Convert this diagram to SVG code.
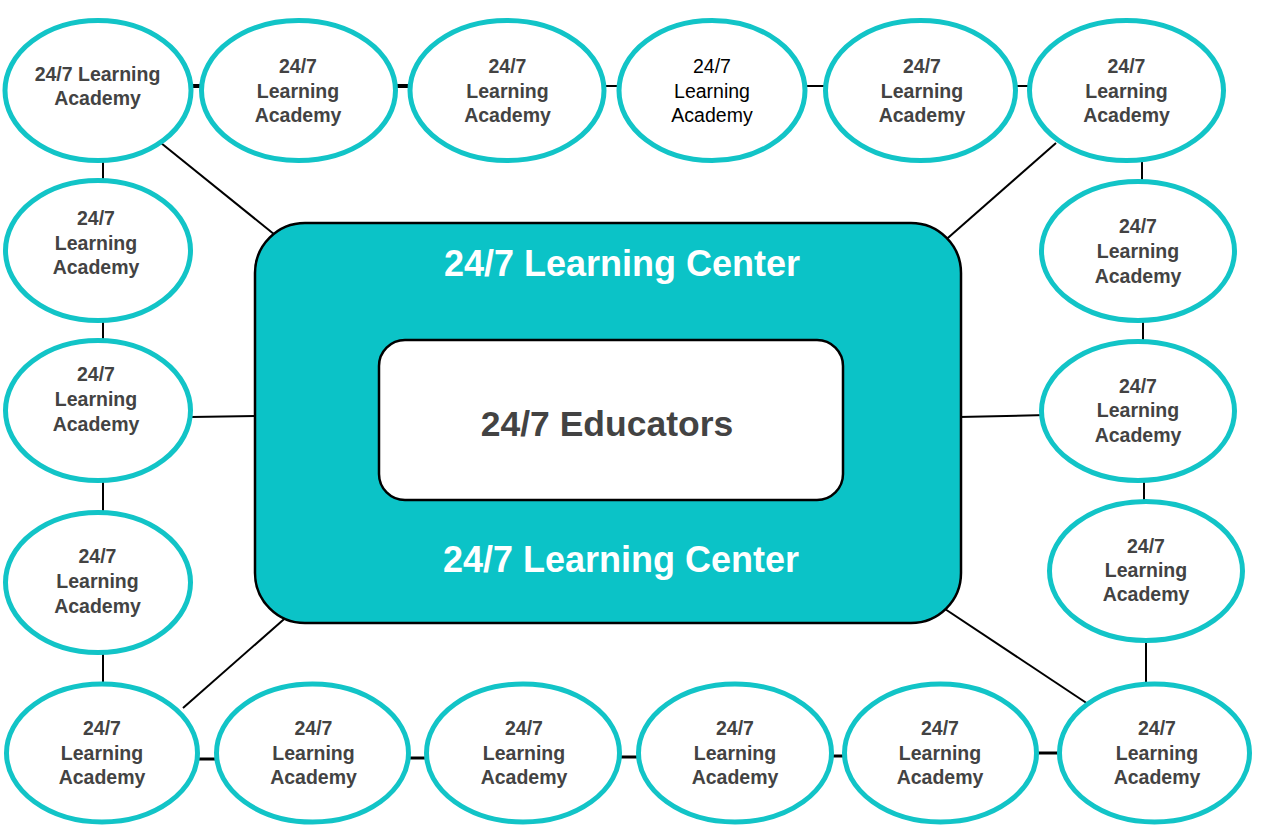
<svg xmlns="http://www.w3.org/2000/svg" width="1264" height="834" viewBox="0 0 1264 834">
<style>
.e{fill:#fff;stroke:#12c4c7;stroke-width:5}
.t{font-family:"Liberation Sans",Arial,sans-serif;font-size:19.5px;font-weight:bold;fill:#434343;text-anchor:middle}
.tr{font-weight:normal;fill:#000}
.c{stroke:#000;stroke-width:2;fill:none}
.ct{stroke:#000;stroke-width:4;fill:none}
.big{font-family:"Liberation Sans",Arial,sans-serif;font-size:36px;font-weight:bold;text-anchor:middle}
</style>
<rect width="1264" height="834" fill="#fff"/>
<g id="connectors">
<line class="ct" x1="190" y1="86" x2="202" y2="86"/>
<line class="ct" x1="395" y1="86" x2="411" y2="86"/>
<line class="c" x1="603" y1="86" x2="620" y2="86"/>
<line class="c" x1="804" y1="86" x2="826" y2="86"/>
<line class="c" x1="1015" y1="86" x2="1030" y2="86"/>
<line class="c" x1="103" y1="160" x2="103" y2="181"/>
<line class="c" x1="103" y1="320" x2="103" y2="341"/>
<line class="c" x1="103" y1="480" x2="103" y2="513"/>
<line class="c" x1="103" y1="652" x2="103" y2="685"/>
<line class="ct" x1="197" y1="759" x2="217" y2="759" style="stroke-width:3"/>
<line class="ct" x1="408" y1="758" x2="427" y2="758" style="stroke-width:3"/>
<line class="ct" x1="619" y1="757" x2="639" y2="757" style="stroke-width:3"/>
<line class="ct" x1="831" y1="756" x2="845" y2="756" style="stroke-width:3"/>
<line class="ct" x1="1036" y1="753" x2="1060" y2="753" style="stroke-width:3"/>
<line class="c" x1="1142" y1="160" x2="1142" y2="182"/>
<line class="c" x1="1143" y1="320" x2="1143" y2="342"/>
<line class="c" x1="1144" y1="480" x2="1144" y2="502"/>
<line class="c" x1="1146" y1="640" x2="1146" y2="685"/>
<line class="c" x1="161" y1="143" x2="280" y2="239"/>
<line class="c" x1="1056" y1="143" x2="941" y2="244"/>
<line class="c" x1="291" y1="613" x2="183" y2="708"/>
<line class="c" x1="942" y1="607" x2="1088" y2="704"/>
<line class="c" x1="191" y1="417" x2="257" y2="416"/>
<line class="c" x1="959" y1="417" x2="1047" y2="415"/>
</g>
<g id="center">
<rect x="255" y="223" width="706" height="400" rx="50" fill="#0bc3c7" stroke="#000" stroke-width="2.5"/>
<text class="big" x="622" y="276" fill="#fff">24/7 Learning Center</text>
<text class="big" x="621" y="572" fill="#fff">24/7 Learning Center</text>
</g>
<g id="educators">
<rect x="379" y="340" width="464" height="160" rx="26" fill="#fff" stroke="#000" stroke-width="2.5"/>
<text class="big" x="607" y="436" fill="#434343" style="font-size:35.5px">24/7 Educators</text>
</g>
<g id="t1"><ellipse class="e" cx="98" cy="90.5" rx="93" ry="70"/><text class="t" x="97.5" y="81">24/7 Learning</text><text class="t" x="97.5" y="105">Academy</text></g>
<g id="t2"><ellipse class="e" cx="298.5" cy="90.5" rx="97" ry="70"/><text class="t" x="298" y="73">24/7</text><text class="t" x="298" y="98">Learning</text><text class="t" x="298" y="122">Academy</text></g>
<g id="t3"><ellipse class="e" cx="507" cy="90.5" rx="97" ry="70"/><text class="t" x="507.5" y="73">24/7</text><text class="t" x="507.5" y="98">Learning</text><text class="t" x="507.5" y="122">Academy</text></g>
<g id="t4"><ellipse class="e" cx="712" cy="90.5" rx="93" ry="70"/><text class="t tr" x="712" y="73">24/7</text><text class="t tr" x="712" y="98">Learning</text><text class="t tr" x="712" y="122">Academy</text></g>
<g id="t5"><ellipse class="e" cx="920.5" cy="90.5" rx="95" ry="70"/><text class="t" x="922" y="73">24/7</text><text class="t" x="922" y="98">Learning</text><text class="t" x="922" y="122">Academy</text></g>
<g id="t6"><ellipse class="e" cx="1126.5" cy="90.5" rx="97" ry="70"/><text class="t" x="1126.5" y="73">24/7</text><text class="t" x="1126.5" y="98">Learning</text><text class="t" x="1126.5" y="122">Academy</text></g>
<g id="l1"><ellipse class="e" cx="98" cy="250.5" rx="92.5" ry="70"/><text class="t" x="96" y="225">24/7</text><text class="t" x="96" y="250">Learning</text><text class="t" x="96" y="274">Academy</text></g>
<g id="l2"><ellipse class="e" cx="98" cy="410.5" rx="92.5" ry="70"/><text class="t" x="96" y="381">24/7</text><text class="t" x="96" y="406">Learning</text><text class="t" x="96" y="431">Academy</text></g>
<g id="l3"><ellipse class="e" cx="98" cy="582.5" rx="92.5" ry="70"/><text class="t" x="97.5" y="563">24/7</text><text class="t" x="97.5" y="588">Learning</text><text class="t" x="97.5" y="613">Academy</text></g>
<g id="r1"><ellipse class="e" cx="1138" cy="251" rx="96.5" ry="69.5"/><text class="t" x="1138" y="233">24/7</text><text class="t" x="1138" y="258">Learning</text><text class="t" x="1138" y="283">Academy</text></g>
<g id="r2"><ellipse class="e" cx="1138" cy="411" rx="96.5" ry="69.5"/><text class="t" x="1138" y="393">24/7</text><text class="t" x="1138" y="417">Learning</text><text class="t" x="1138" y="442">Academy</text></g>
<g id="r3"><ellipse class="e" cx="1146" cy="571" rx="96.5" ry="69.5"/><text class="t" x="1146" y="553">24/7</text><text class="t" x="1146" y="577">Learning</text><text class="t" x="1146" y="601">Academy</text></g>
<g id="b1"><ellipse class="e" cx="102" cy="753" rx="95.5" ry="69"/><text class="t" x="102" y="735">24/7</text><text class="t" x="102" y="760">Learning</text><text class="t" x="102" y="784">Academy</text></g>
<g id="b2"><ellipse class="e" cx="312.5" cy="753" rx="96" ry="69"/><text class="t" x="313.5" y="735">24/7</text><text class="t" x="313.5" y="760">Learning</text><text class="t" x="313.5" y="784">Academy</text></g>
<g id="b3"><ellipse class="e" cx="523" cy="753" rx="96.5" ry="69"/><text class="t" x="524" y="735">24/7</text><text class="t" x="524" y="760">Learning</text><text class="t" x="524" y="784">Academy</text></g>
<g id="b4"><ellipse class="e" cx="735" cy="753" rx="96.5" ry="69"/><text class="t" x="735" y="735">24/7</text><text class="t" x="735" y="760">Learning</text><text class="t" x="735" y="784">Academy</text></g>
<g id="b5"><ellipse class="e" cx="940.5" cy="753" rx="96" ry="69"/><text class="t" x="940" y="735">24/7</text><text class="t" x="940" y="760">Learning</text><text class="t" x="940" y="784">Academy</text></g>
<g id="b6"><ellipse class="e" cx="1154.5" cy="753" rx="95" ry="69"/><text class="t" x="1157" y="735">24/7</text><text class="t" x="1157" y="760">Learning</text><text class="t" x="1157" y="784">Academy</text></g>
</svg>
